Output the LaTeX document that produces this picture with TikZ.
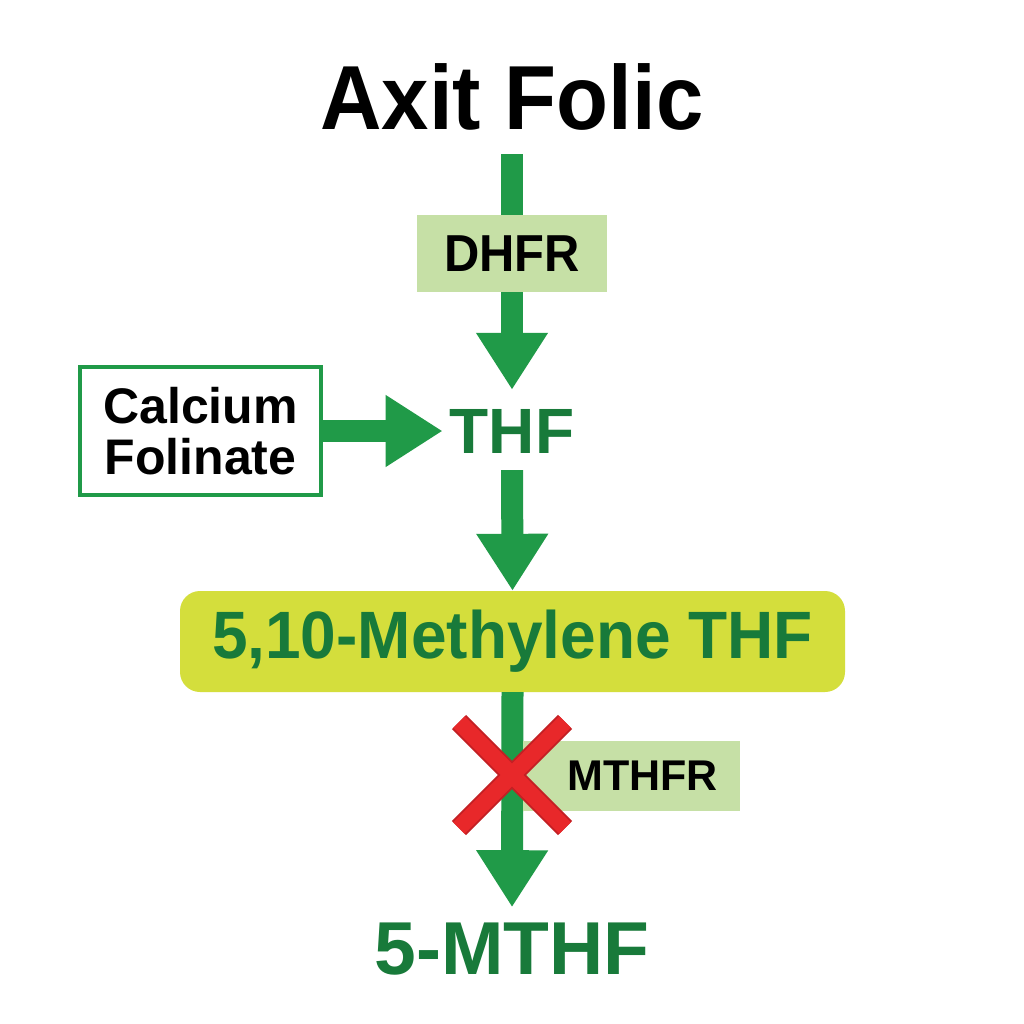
\documentclass[tikz,border=0pt]{standalone}
\usepackage{fontspec}
\setmainfont{Liberation Sans}
\usetikzlibrary{arrows.meta}
\definecolor{arrowgreen}{RGB}{32,154,72}
\definecolor{textgreen}{RGB}{24,122,58}
\definecolor{enzymefill}{RGB}{198,224,166}
\definecolor{methylfill}{RGB}{212,222,60}
\definecolor{crossred}{RGB}{232,40,42}
\definecolor{crossedge}{RGB}{196,32,36}
\newcommand{\squeeze}[2]{\scalebox{#1}[1]{#2}}
\newcommand{\fsz}[1]{\fontsize{#1}{#1}\selectfont\bfseries}

\begin{document}
\begin{tikzpicture}[x=1pt,y=-1pt,
  flow/.style={draw=arrowgreen,line width=22pt,-{Triangle[width=68pt,length=57pt]}},
  metab/.style={anchor=base,inner sep=0pt,text=textgreen},
  enzyme/.style={fill=enzymefill,inner sep=0pt,text=black},
  crossarm/.style={line width=#1,line cap=butt}]
%set diagram: 1024 x 1024
\fill[white] (0,0) rectangle (1024,1024);
\useasboundingbox (0,0) rectangle (1024,1024);

% Text Node
\node [anchor=base,inner sep=0pt,font=\fsz{91}] (title) at (512,130) {\squeeze{0.935}{Axit Folic}};
% Text Node
\node [metab,font=\fsz{64}] (thf) at (512,453) {THF};
% Text Node
\node [metab,font=\fsz{75}] (mthf) at (512,974) {5-MTHF};
%Shape: Rounded Rectangle
\node [fill=methylfill,rounded corners=20pt,minimum width=665pt,minimum height=101pt,inner sep=0pt,text=textgreen,font=\fsz{67}] (meth) at (512.5,641.5) {\squeeze{0.955}{5,10-Methylene THF}};
%Shape: Rectangle
\node [draw=arrowgreen,line width=3.5pt,fill=white,minimum width=241pt,minimum height=128pt,inner sep=0pt,align=center,font=\fontsize{50}{51}\selectfont\bfseries] (calc) at (200.5,431) {Calcium\\Folinate};

%Straight Lines
\draw [flow,shorten <=23pt,shorten >=19pt] (title.south) -- (thf.north);
%Shape: Rectangle
\node [enzyme,minimum width=190pt,minimum height=77pt,font=\fsz{52}] (dhfr) at (512,253.5) {\squeeze{0.94}{DHFR}};
%Straight Lines
\draw [flow,shorten >=7pt] (calc.east) -- (calc.east -| thf.west);
%Straight Lines
\draw [flow,shorten <=17pt] (thf.south) -- (meth.north);
%Straight Lines
\draw [flow,shorten >=15pt] (meth.south) -- (mthf.north);
%Shape: Rectangle
\node [enzyme,anchor=east,inner xsep=22pt,text width=173pt,align=right,minimum height=70pt,font=\fsz{43}] (mthfr) at (740,776) {MTHFR};

%Shape: Cross
\coordinate (cross) at (512,775);
\foreach \w/\c in {20pt/crossedge,16pt/crossred}{
  \draw [crossarm=\w,draw=\c] ([shift={(-53,-53)}]cross) -- ([shift={(53,53)}]cross);
  \draw [crossarm=\w,draw=\c] ([shift={(53,-53)}]cross) -- ([shift={(-53,53)}]cross);
}
\end{tikzpicture}
\end{document}
